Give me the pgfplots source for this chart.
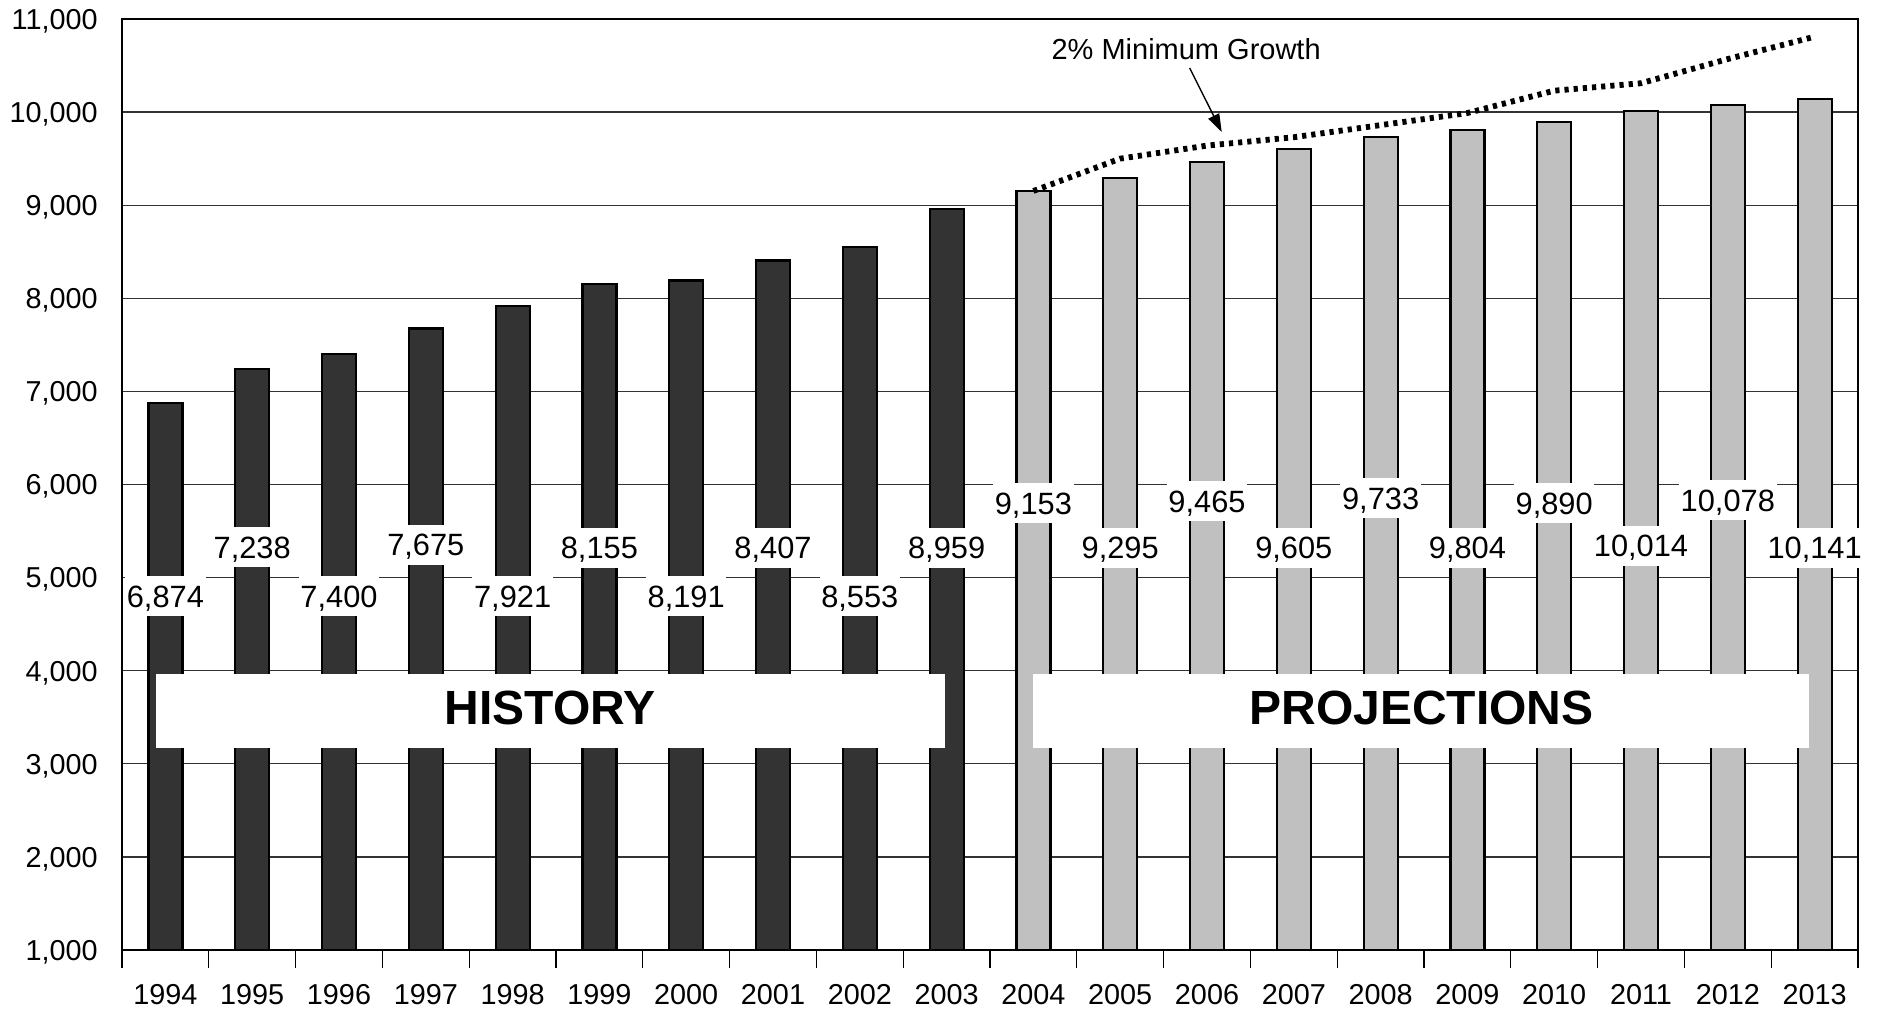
\documentclass[border=0pt]{standalone}
\usepackage{pgfplots}
\pgfplotsset{compat=1.18}
\usepackage{pgfplotstable}
\usepackage{fontspec}
\setmainfont{Liberation Sans}
\usetikzlibrary{arrows.meta}
\definecolor{hist}{HTML}{333333}
\definecolor{proj}{HTML}{C0C0C0}

\pgfplotstableread{
x y label
0 4800 6,874
1 5325 7,238
2 4800 7,400
3 5355 7,675
4 4800 7,921
5 5320 8,155
6 4800 8,191
7 5320 8,407
8 4800 8,553
9 5320 8,959
10 5800 9,153
11 5320 9,295
12 5820 9,465
13 5320 9,605
14 5850 9,733
15 5320 9,804
16 5800 9,890
17 5340 10,014
18 5830 10,078
19 5320 10,141
}\labels

\begin{document}
\begin{tikzpicture}
\begin{axis}[
  at={(0,0)}, anchor=south west,
  scale only axis, width=868pt, height=465.5pt,
  xmin=-0.5, xmax=19.5, ymin=1000, ymax=11000,
  xtick={0,...,19},
  xticklabels={1994,1995,1996,1997,1998,1999,2000,2001,2002,2003,2004,2005,2006,2007,2008,2009,2010,2011,2012,2013},
  minor xtick={-0.5,0.5,...,19.5},
  ytick={1000,2000,...,11000},
  scaled y ticks=false,
  ymajorgrids,
  grid style={line width=0.6pt, black!80},
  major tick length=0pt, minor tick length=9pt,
  tick align=outside, xtick pos=bottom, ytick pos=left,
  minor tick style={line width=0.6pt, black},
  axis line style={line width=1.2pt},
  /pgf/number format/1000 sep={,},
  /pgf/number format/assume math mode=true,
  yticklabel style={font=\fontsize{14.4}{16}\selectfont, anchor=east, text height=10.3pt, text depth=0pt, inner sep=0pt, xshift=-12pt, /pgf/number format/fixed, /pgf/number format/precision=0},
  xticklabel style={font=\fontsize{14.4}{16}\selectfont, anchor=north, text height=10.3pt, text depth=0pt, inner sep=0pt, yshift=-16.5pt},
]
\addplot[ybar, bar width=17pt, bar shift=0pt, fill=hist, draw=black, line width=1.1pt]
  coordinates {(0,6874) (1,7238) (2,7400) (3,7675) (4,7921) (5,8155) (6,8191) (7,8407) (8,8553) (9,8959)};
\addplot[ybar, bar width=17pt, bar shift=0pt, fill=proj, draw=black, line width=1.1pt]
  coordinates {(10,9153) (11,9295) (12,9465) (13,9605) (14,9733) (15,9804) (16,9890) (17,10014) (18,10078) (19,10141)};

\addplot[draw=none, mark=none, nodes near coords, point meta=explicit symbolic,
  nodes near coords align=center,
  nodes near coords style={anchor=center, fill=white, inner xsep=0.8pt, inner ysep=4.5pt,
    text height=11pt, text depth=0pt, font=\fontsize{15.4}{18}\selectfont}]
  table[x=x, y=y, meta=label] {\labels};

\fill[white] (axis cs:-0.108,3170) rectangle (axis cs:8.98,3965);
\fill[white] (axis cs:9.996,3170) rectangle (axis cs:18.935,3965);
\node[font=\bfseries\fontsize{24}{28}\selectfont, text height=17.2pt, text depth=0pt, inner sep=0pt] at (axis cs:4.43,3610) {HISTORY};
\node[font=\bfseries\fontsize{24}{28}\selectfont, text height=17.2pt, text depth=0pt, inner sep=0pt] at (axis cs:14.47,3610) {PROJECTIONS};

\addplot[black, line width=2.9pt, dash pattern=on 2.1pt off 2.5pt, mark=none]
  coordinates {(10,9153) (11,9500) (12,9640) (13,9730) (14,9860) (15,9990) (16,10230) (17,10310) (18,10570) (19,10810)};

\draw[line width=0.7pt, -{Triangle[length=9pt,width=6pt]}] (axis cs:11.80,10474) -- (axis cs:12.17,9786);
\node[font=\fontsize{14.5}{17}\selectfont, text height=10.4pt, text depth=0pt, inner sep=0pt] at (axis cs:11.76,10678) {2\% Minimum Growth};
\end{axis}
\pgfresetboundingbox
\useasboundingbox (-61pt,-29pt) rectangle (878.5pt,475pt);
\end{tikzpicture}
\end{document}
